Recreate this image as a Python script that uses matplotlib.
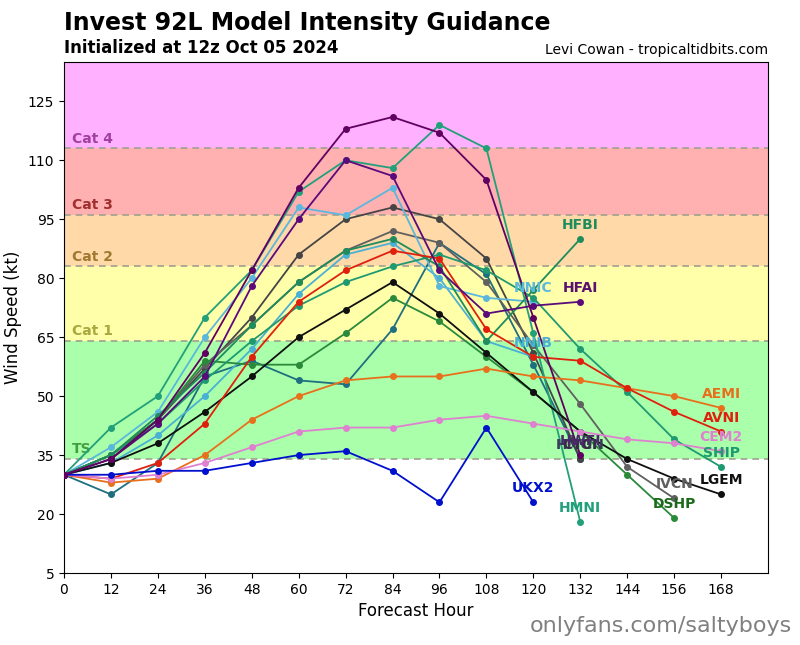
import matplotlib.pyplot as plt

# Forecast hours and model intensities (kt)
hours = list(range(0, 169, 12))

ukx2 = [30, 30, 31, 31, 33, 35, 36, 31, 23, 42, 23]
cem2 = [30, 29, 30, 33, 37, 41, 42, 42, 44, 45, 43, 41, 39, 38, 36]
aemi = [30, 28, 29, 35, 44, 50, 54, 55, 55, 57, 55, 54, 52, 50, 47]
avni = [30, 29, 33, 43, 60, 74, 82, 87, 85, 67, 60, 59, 52, 46, 41]
ship = [30, 35, 43, 54, 64, 73, 79, 83, 86, 82, 75, 62, 51, 39, 32]
lgem = [30, 33, 38, 46, 55, 65, 72, 79, 71, 61, 51, 41, 34, 29, 25]
ivcn = [30, 35, 44, 58, 68, 79, 87, 92, 89, 79, 63, 48, 32, 24]
dshp = [30, 35, 44, 59, 58, 58, 66, 75, 69, 60, 51, 41, 30, 19]
hmni = [30, 42, 50, 70, 82, 102, 110, 108, 119, 113, 66, 18]
hfbi = [30, 35, 45, 56, 68, 79, 87, 90, 83, 64, 77, 90]
hfai = [30, 34, 43, 55, 78, 95, 110, 106, 82, 71, 73, 74]
hwfi = [30, 34, 44, 61, 82, 103, 118, 121, 117, 105, 70, 35]
nnic = [30, 37, 46, 65, 80, 98, 96, 103, 78, 75, 74]
nnib = [30, 33, 40, 50, 62, 76, 86, 89, 80, 64, 60]
ctci = [30, 35, 44, 57, 70, 86, 95, 98, 95, 85, 61, 34]
hmon = [30, 25, 33, 55, 59, 54, 53, 67, 89, 81, 58, 34]

models = [
    ("HMON", hmon, "#1f6f80"),
    ("CTCI", ctci, "#454545"),
    ("IVCN", ivcn, "#606060"),
    ("NNIB", nnib, "#4ab0d4"),
    ("NNIC", nnic, "#5ab8dc"),
    ("DSHP", dshp, "#2a8a3a"),
    ("SHIP", ship, "#1f9a70"),
    ("HFBI", hfbi, "#1f8c5c"),
    ("HMNI", hmni, "#22a07a"),
    ("LGEM", lgem, "#101010"),
    ("AEMI", aemi, "#e8701c"),
    ("AVNI", avni, "#e0200e"),
    ("CEM2", cem2, "#e080d0"),
    ("UKX2", ukx2, "#0010cc"),
    ("HFAI", hfai, "#5a0a7a"),
    ("HWFI", hwfi, "#600060"),
]
label_colors = {"DSHP": "#1a6a1a", "HFAI": "#5a1070", "HWFI": "#4a2a6a",
                "HMON": "#3a3a5a", "CTCI": "#3a2a4a"}

# Saffir-Simpson bands
band_edges = [0, 34, 64, 83, 96, 113, 140]
band_colors = ["#ffffff", "#aaffaa", "#ffffaa", "#ffd9a8", "#ffb0b0", "#ffb0ff"]
band_names = ["TS", "Cat 1", "Cat 2", "Cat 3", "Cat 4"]
band_text = ["#40a040", "#a8a840", "#a07830", "#a03030", "#a040a0"]

fig = plt.figure(figsize=(8, 6.45), dpi=100)
ax = fig.add_axes([0.08, 0.1116, 0.88, 0.7923])

for i in range(len(band_colors)):
    ax.axhspan(band_edges[i], band_edges[i + 1], color=band_colors[i], zorder=0, lw=0)
for i, name in enumerate(band_names):
    lvl = band_edges[i + 1]
    ax.axhline(lvl, color="#a0a090", ls=(0, (4, 3)), lw=1.2, zorder=1)
    ax.text(2, lvl + 1.5, name, color=band_text[i], fontsize=10, fontweight="bold", zorder=2)

for name, vals, col in models:
    h = hours[:len(vals)]
    ax.plot(h, vals, color=col, lw=1.3, marker="o", markersize=4, zorder=3)
    ax.annotate(name, (h[-1], vals[-1]), xytext=(0, 5), textcoords="offset points",
                ha="center", va="bottom", fontsize=10, fontweight="bold",
                color=label_colors.get(name, col), zorder=4)

ax.set_xlim(0, 180)
ax.set_ylim(5, 135)
ax.set_xticks(hours)
ax.set_yticks(range(5, 126, 15))
ax.tick_params(labelsize=10)
ax.set_xlabel("Forecast Hour", fontsize=12)
ax.set_ylabel("Wind Speed (kt)", fontsize=12)

fig.text(0.08, 0.965, "Invest 92L Model Intensity Guidance", fontsize=17,
         fontweight="bold", va="center")
fig.text(0.08, 0.925, "Initialized at 12z Oct 05 2024", fontsize=12,
         fontweight="bold", va="center")
fig.text(0.96, 0.922, "Levi Cowan - tropicaltidbits.com", fontsize=10,
         ha="right", va="center")
fig.text(0.99, 0.03, "onlyfans.com/saltyboys", fontsize=16, color="#808080",
         ha="right", va="center")

fig.savefig("out.png", dpi=100)
